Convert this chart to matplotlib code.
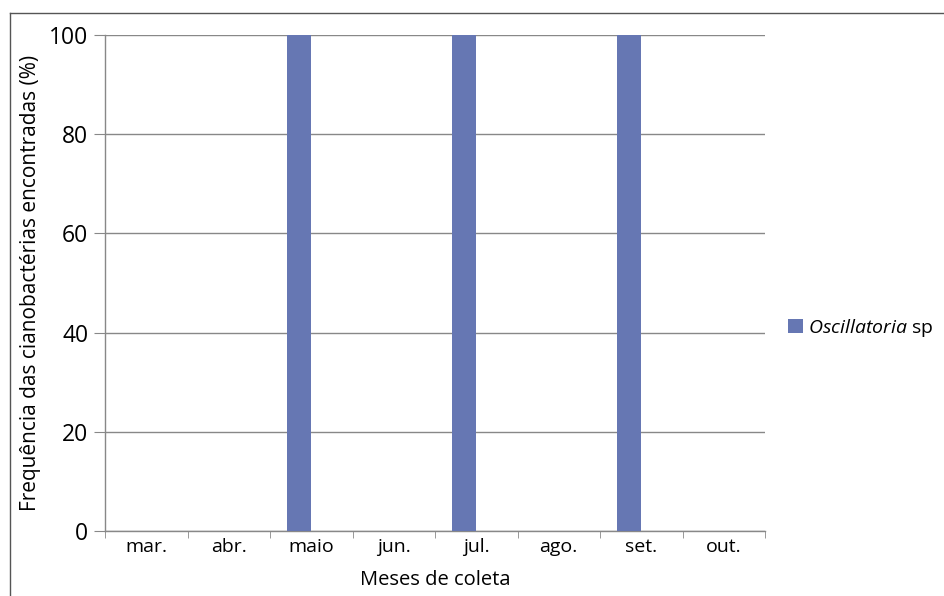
import matplotlib
matplotlib.use("Agg")
import matplotlib.pyplot as plt
from matplotlib.lines import Line2D
from matplotlib.patches import Patch
import numpy as np

months = ["mar.", "abr.", "maio", "jun.", "jul.", "ago.", "set.", "out."]
oscillatoria = [0, 0, 100, 0, 100, 0, 100, 0]
yticks = [0, 20, 40, 60, 80, 100]

plt.rcParams['font.family'] = ['Open Sans', 'DejaVu Sans']
plt.rcParams['mathtext.fontset'] = 'custom'
plt.rcParams['mathtext.it'] = 'Open Sans:italic'
plt.rcParams['mathtext.rm'] = 'Open Sans'

fig = plt.figure(figsize=(9.44, 5.96), dpi=100)
ax = fig.add_axes([105/944, 1-531/596, 660/944, (531-35)/596])

x = np.arange(len(months))
color = "#6677b3"
ax.bar(x - 0.143, oscillatoria, width=0.29, color=color, zorder=3)

ax.set_xlim(-0.5, len(months) - 0.5)
ax.set_ylim(0, 100)
ax.set_yticks(yticks)
ax.set_yticklabels([str(v) for v in yticks], fontsize=16.5)
ax.set_xticks(x)
ax.set_xticklabels(months, fontsize=14)
ax.set_xticks(np.arange(-0.5, len(months), 1), minor=True)
ax.tick_params(axis='x', which='major', length=0, pad=5)
ax.tick_params(axis='x', which='minor', length=5, color='#888888')
ax.tick_params(axis='y', length=8, color='#888888', pad=4)

ax.grid(axis='y', color='#888888', linewidth=1, zorder=0)
for s in ['top', 'right']:
    ax.spines[s].set_visible(False)
for s in ['left', 'bottom']:
    ax.spines[s].set_color('#888888')
    ax.spines[s].set_linewidth(1)

ax.set_ylabel("Frequência das cianobactérias encontradas (%)", fontsize=15, labelpad=6)
ax.set_xlabel("Meses de coleta", fontsize=14.5, labelpad=10)

handles = [Patch(facecolor=color, edgecolor='none')]
fig.legend(handles, [r"$\mathit{Oscillatoria}$ sp"], loc='center left',
           bbox_to_anchor=(788/944, 1-328/596), frameon=False, fontsize=14,
           handlelength=0.75, handleheight=0.75, handletextpad=0.3, borderaxespad=0,
           borderpad=0)

# figure border
fig.add_artist(Line2D([10/944, 10/944], [0, 1-13/596], transform=fig.transFigure, color='#555555', lw=1))
fig.add_artist(Line2D([10/944, 1], [1-13/596, 1-13/596], transform=fig.transFigure, color='#555555', lw=1))

fig.savefig("out.png", dpi=100)
